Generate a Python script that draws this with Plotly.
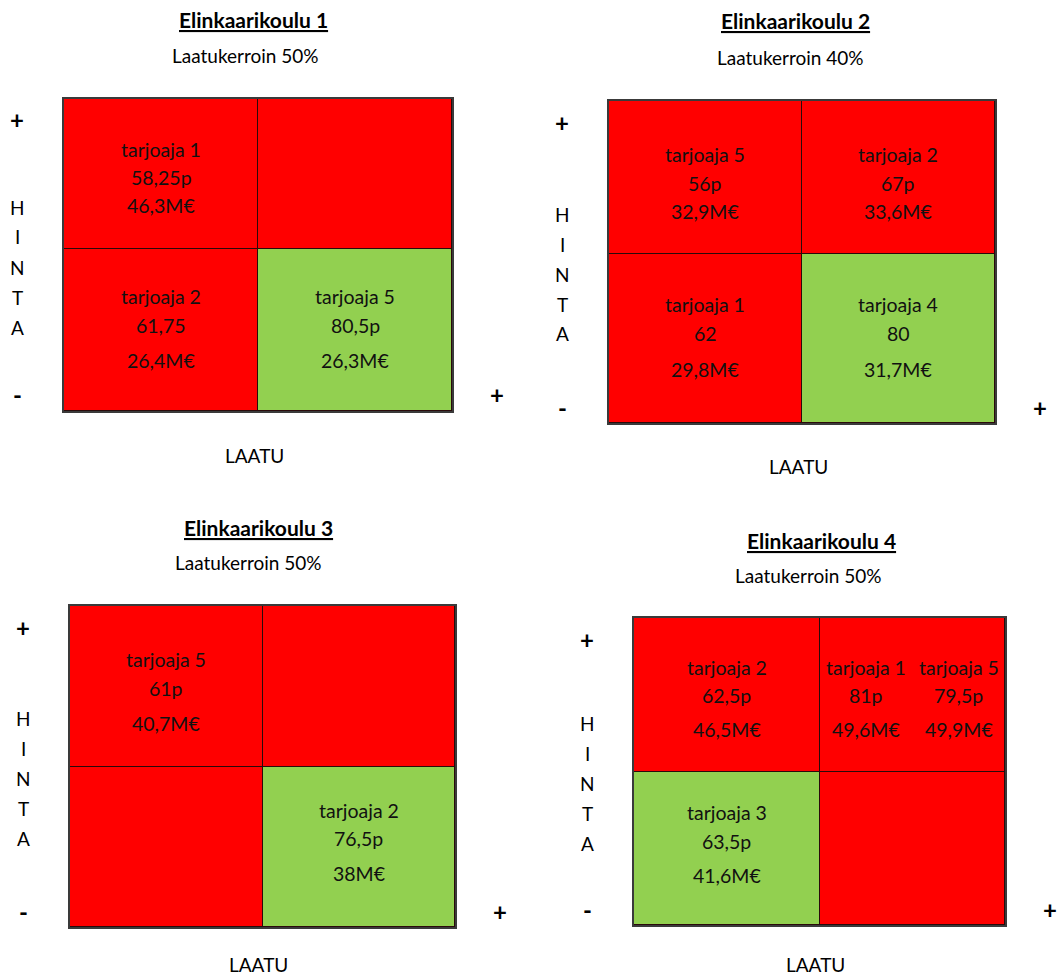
import plotly.graph_objects as go

# ---------------- data ----------------
titles = ["Elinkaarikoulu 1", "Elinkaarikoulu 2", "Elinkaarikoulu 3", "Elinkaarikoulu 4"]
quality_weights = ["Laatukerroin 50%", "Laatukerroin 40%", "Laatukerroin 50%", "Laatukerroin 50%"]
y_axis_label = "HINTA"
x_axis_label = "LAATU"

# cell colour codes: rows = [price low (bottom), price high (top)], cols = [quality low, quality high]; 1 = green, 0 = red
p1_cells = [[0, 1], [0, 0]]
p2_cells = [[0, 1], [0, 0]]
p3_cells = [[0, 1], [0, 0]]
p4_cells = [[1, 0], [0, 0]]

# bidders: name, quality points, price, quadrant
p1_names = ["tarjoaja 1", "tarjoaja 2", "tarjoaja 5"]
p1_points = ["58,25p", "61,75", "80,5p"]
p1_prices = ["46,3M€", "26,4M€", "26,3M€"]
p1_quads = ["TL", "BL", "BR"]

p2_names = ["tarjoaja 5", "tarjoaja 2", "tarjoaja 1", "tarjoaja 4"]
p2_points = ["56p", "67p", "62", "80"]
p2_prices = ["32,9M€", "33,6M€", "29,8M€", "31,7M€"]
p2_quads = ["TL", "TR", "BL", "BR"]

p3_names = ["tarjoaja 5", "tarjoaja 2"]
p3_points = ["61p", "76,5p"]
p3_prices = ["40,7M€", "38M€"]
p3_quads = ["TL", "BR"]

p4_names = ["tarjoaja 2", "tarjoaja 1", "tarjoaja 5", "tarjoaja 3"]
p4_points = ["62,5p", "81p", "79,5p", "63,5p"]
p4_prices = ["46,5M€", "49,6M€", "49,9M€", "41,6M€"]
p4_quads = ["TL", "TR", "TR", "BL"]

# ---------------- layout / style ----------------
W, H = 1057, 978
FONT = "Lato, 'Open Sans', sans-serif"
RED = "#FF0000"
GREEN = "#92D050"
TXT = "#111111"
CELL_SIZE = 19.5
TITLE_SIZE = 21
SUB_SIZE = 19
LBL_SIZE = 19
SIGN_SIZE = 24

# plot boxes in pixels (x0, x1, y0 top, y1 bottom) and share of the lower row
boxes = [(64, 452, 99, 411), (609, 995, 101, 423), (70, 455, 606, 927), (634, 1005, 618, 925)]
low_share = [0.52, 0.525, 0.50, 0.50]
laatu_offset = [44, 43, 37, 39]
# text line offsets inside cells: (first line from cell top, gap1, gap2)
line_layout = [
    {"TL": (51, 28, 28), "BL": (48, 29, 35), "BR": (48, 29, 35)},
    {"TL": (53, 29, 28), "TR": (53, 29, 28), "BL": (51, 29, 36), "BR": (51, 29, 36)},
    {"TL": (53, 29, 35), "BR": (44, 28, 35)},
    {"TL": (49, 28, 34), "TR": (49, 28, 34), "BL": (41, 29, 34)},
]
title_pos = [((253, 20), (245, 55)), ((795, 21), (790, 57)), ((258, 527), (248, 562)), ((821, 540), (808, 575))]

panels = [
    (p1_cells, p1_names, p1_points, p1_prices, p1_quads),
    (p2_cells, p2_names, p2_points, p2_prices, p2_quads),
    (p3_cells, p3_names, p3_points, p3_prices, p3_quads),
    (p4_cells, p4_names, p4_points, p4_prices, p4_quads),
]


def px(x):
    return x / W


def py(y):
    return 1 - y / H


def paper_text(x, y, text, size):
    return dict(x=px(x), y=py(y), xref="paper", yref="paper", showarrow=False,
                text=text, xanchor="center", yanchor="middle",
                font=dict(family=FONT, size=size, color="#000000"))


fig = go.Figure()
annotations = []
layout_axes = {}

for i, (cells, names, points, prices, quads) in enumerate(panels):
    n = i + 1
    xa = "x" if n == 1 else f"x{n}"
    ya = "y" if n == 1 else f"y{n}"
    x0, x1, y0, y1 = boxes[i]
    ls = low_share[i]
    fig.add_trace(go.Heatmap(
        z=cells, x=[0, 0.5, 1], y=[0, ls, 1],
        colorscale=[[0, RED], [0.5, RED], [0.5, GREEN], [1, GREEN]],
        zmin=0, zmax=1, showscale=False, xgap=1, ygap=1,
        hoverinfo="skip", xaxis=xa, yaxis=ya,
    ))
    axcommon = dict(range=[0, 1], showgrid=False, zeroline=False, showticklabels=False,
                    ticks="", showline=True, linecolor="#3a3a3a", linewidth=1.5, mirror=True,
                    fixedrange=True)
    layout_axes[("xaxis" if n == 1 else f"xaxis{n}")] = dict(domain=[px(x0), px(x1)], anchor=ya, **axcommon)
    layout_axes[("yaxis" if n == 1 else f"yaxis{n}")] = dict(domain=[py(y1), py(y0)], anchor=xa, **axcommon)

    # cell texts
    quad_bounds = {"TL": (0, 0.5, 1), "TR": (0.5, 1, 1), "BL": (0, 0.5, ls), "BR": (0.5, 1, ls)}
    for q in sorted(set(quads)):
        idx = [k for k, qq in enumerate(quads) if qq == q]
        cx0, cx1, ctop = quad_bounds[q]
        first, g1, g2 = line_layout[i][q]
        offs = [first, first + g1, first + g1 + g2]
        for j, k in enumerate(idx):
            cx = cx0 + (j + 0.5) * (cx1 - cx0) / len(idx)
            for line, off in zip([names[k], points[k], prices[k]], offs):
                annotations.append(dict(
                    x=cx, y=ctop, xref=xa, yref=ya, text=line, showarrow=False,
                    yanchor="middle", xanchor="center", yshift=-off,
                    font=dict(family=FONT, size=CELL_SIZE, color=TXT)))

    # titles
    (tx, ty), (sx, sy) = title_pos[i]
    annotations.append(paper_text(tx, ty, f"<b><u>{titles[i]}</u></b>", TITLE_SIZE))
    annotations.append(paper_text(sx, sy, quality_weights[i], SUB_SIZE))

    # axis signs and labels
    lx = x0 - 47
    annotations.append(paper_text(lx, y0 + 21, "<b>+</b>", SIGN_SIZE))
    annotations.append(paper_text(lx, y1 - 16, "<b>-</b>", SIGN_SIZE))
    annotations.append(paper_text(x1 + 45, y1 - 16, "<b>+</b>", SIGN_SIZE))
    cyc = (y0 + y1) / 2 + 12
    for k, ch in enumerate(y_axis_label):
        annotations.append(paper_text(lx, cyc + (k - 2) * 30, ch, LBL_SIZE))
    annotations.append(paper_text((x0 + x1) / 2 - 4, y1 + laatu_offset[i], x_axis_label, LBL_SIZE))

fig.update_layout(
    width=W, height=H, margin=dict(l=0, r=0, t=0, b=0),
    paper_bgcolor="white", plot_bgcolor="#2a0a0a",
    showlegend=False, annotations=annotations, **layout_axes,
)

fig.write_html("out.html", config={"displayModeBar": False})
